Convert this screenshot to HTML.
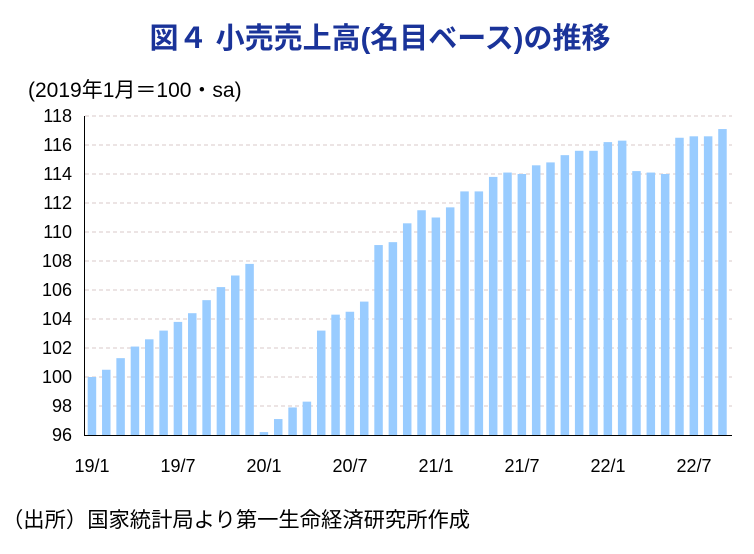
<!DOCTYPE html><html><head><meta charset="utf-8"><style>body{margin:0;background:#fff}</style></head><body>
<svg width="754" height="549" xmlns="http://www.w3.org/2000/svg" font-family="Liberation Sans, Noto Sans CJK JP, sans-serif">
<text x="380" y="48" text-anchor="middle" font-size="29" font-weight="bold" fill="#1a3399" font-family="Liberation Sans, Noto Sans CJK JP, sans-serif">図４  小売売上高(名目ベース)の推移</text>
<text x="28" y="97" font-size="21" fill="#000">(2019年1月＝100・sa)</text>
<g id="grid" stroke="#d8c8c8" stroke-dasharray="4,3" stroke-width="1"></g>
<g id="bars" fill="#99ccff"></g>
<g id="yl" font-size="18" text-anchor="end"></g>
<line x1="84.5" y1="116" x2="84.5" y2="435" stroke="#000"/>
<line x1="84" y1="435.5" x2="732" y2="435.5" stroke="#000"/>
<g font-size="18" text-anchor="middle">
<text x="92" y="472">19/1</text><text x="178" y="472">19/7</text><text x="264" y="472">20/1</text><text x="350" y="472">20/7</text><text x="436" y="472">21/1</text><text x="522" y="472">21/7</text><text x="608" y="472">22/1</text><text x="694" y="472">22/7</text>
</g>
<text x="2" y="527" font-size="21.3">（出所）国家統計局より第一生命経済研究所作成</text>
<script>
var v=[100,100.5,101.3,102.1,102.6,103.2,103.8,104.4,105.3,106.2,107,107.8,96.2,97.1,97.9,98.3,103.2,104.3,104.5,105.2,109.1,109.3,110.6,111.5,111,111.7,112.8,112.8,113.8,114.1,114,114.6,114.8,115.3,115.6,115.6,116.2,116.3,114.2,114.1,114,116.5,116.6,116.6,117.1];
var ns="http://www.w3.org/2000/svg";function y(t){return 435-(t-96)*14.5}
var g=document.getElementById('grid'),b=document.getElementById('bars'),l=document.getElementById('yl');
for(var t=96;t<=118;t+=2){if(t>96){var e=document.createElementNS(ns,'line');e.setAttribute('x1',85);e.setAttribute('x2',732);e.setAttribute('y1',y(t));e.setAttribute('y2',y(t));g.appendChild(e);}
var s=document.createElementNS(ns,'text');s.setAttribute('x',72);s.setAttribute('y',y(t)+6);s.textContent=t;l.appendChild(s);}
v.forEach(function(d,i){var r=document.createElementNS(ns,'rect');r.setAttribute('x',87.7+i*14.33);r.setAttribute('width',8.5);r.setAttribute('y',y(d));r.setAttribute('height',435-y(d));b.appendChild(r);});
</script>
</svg></body></html>
